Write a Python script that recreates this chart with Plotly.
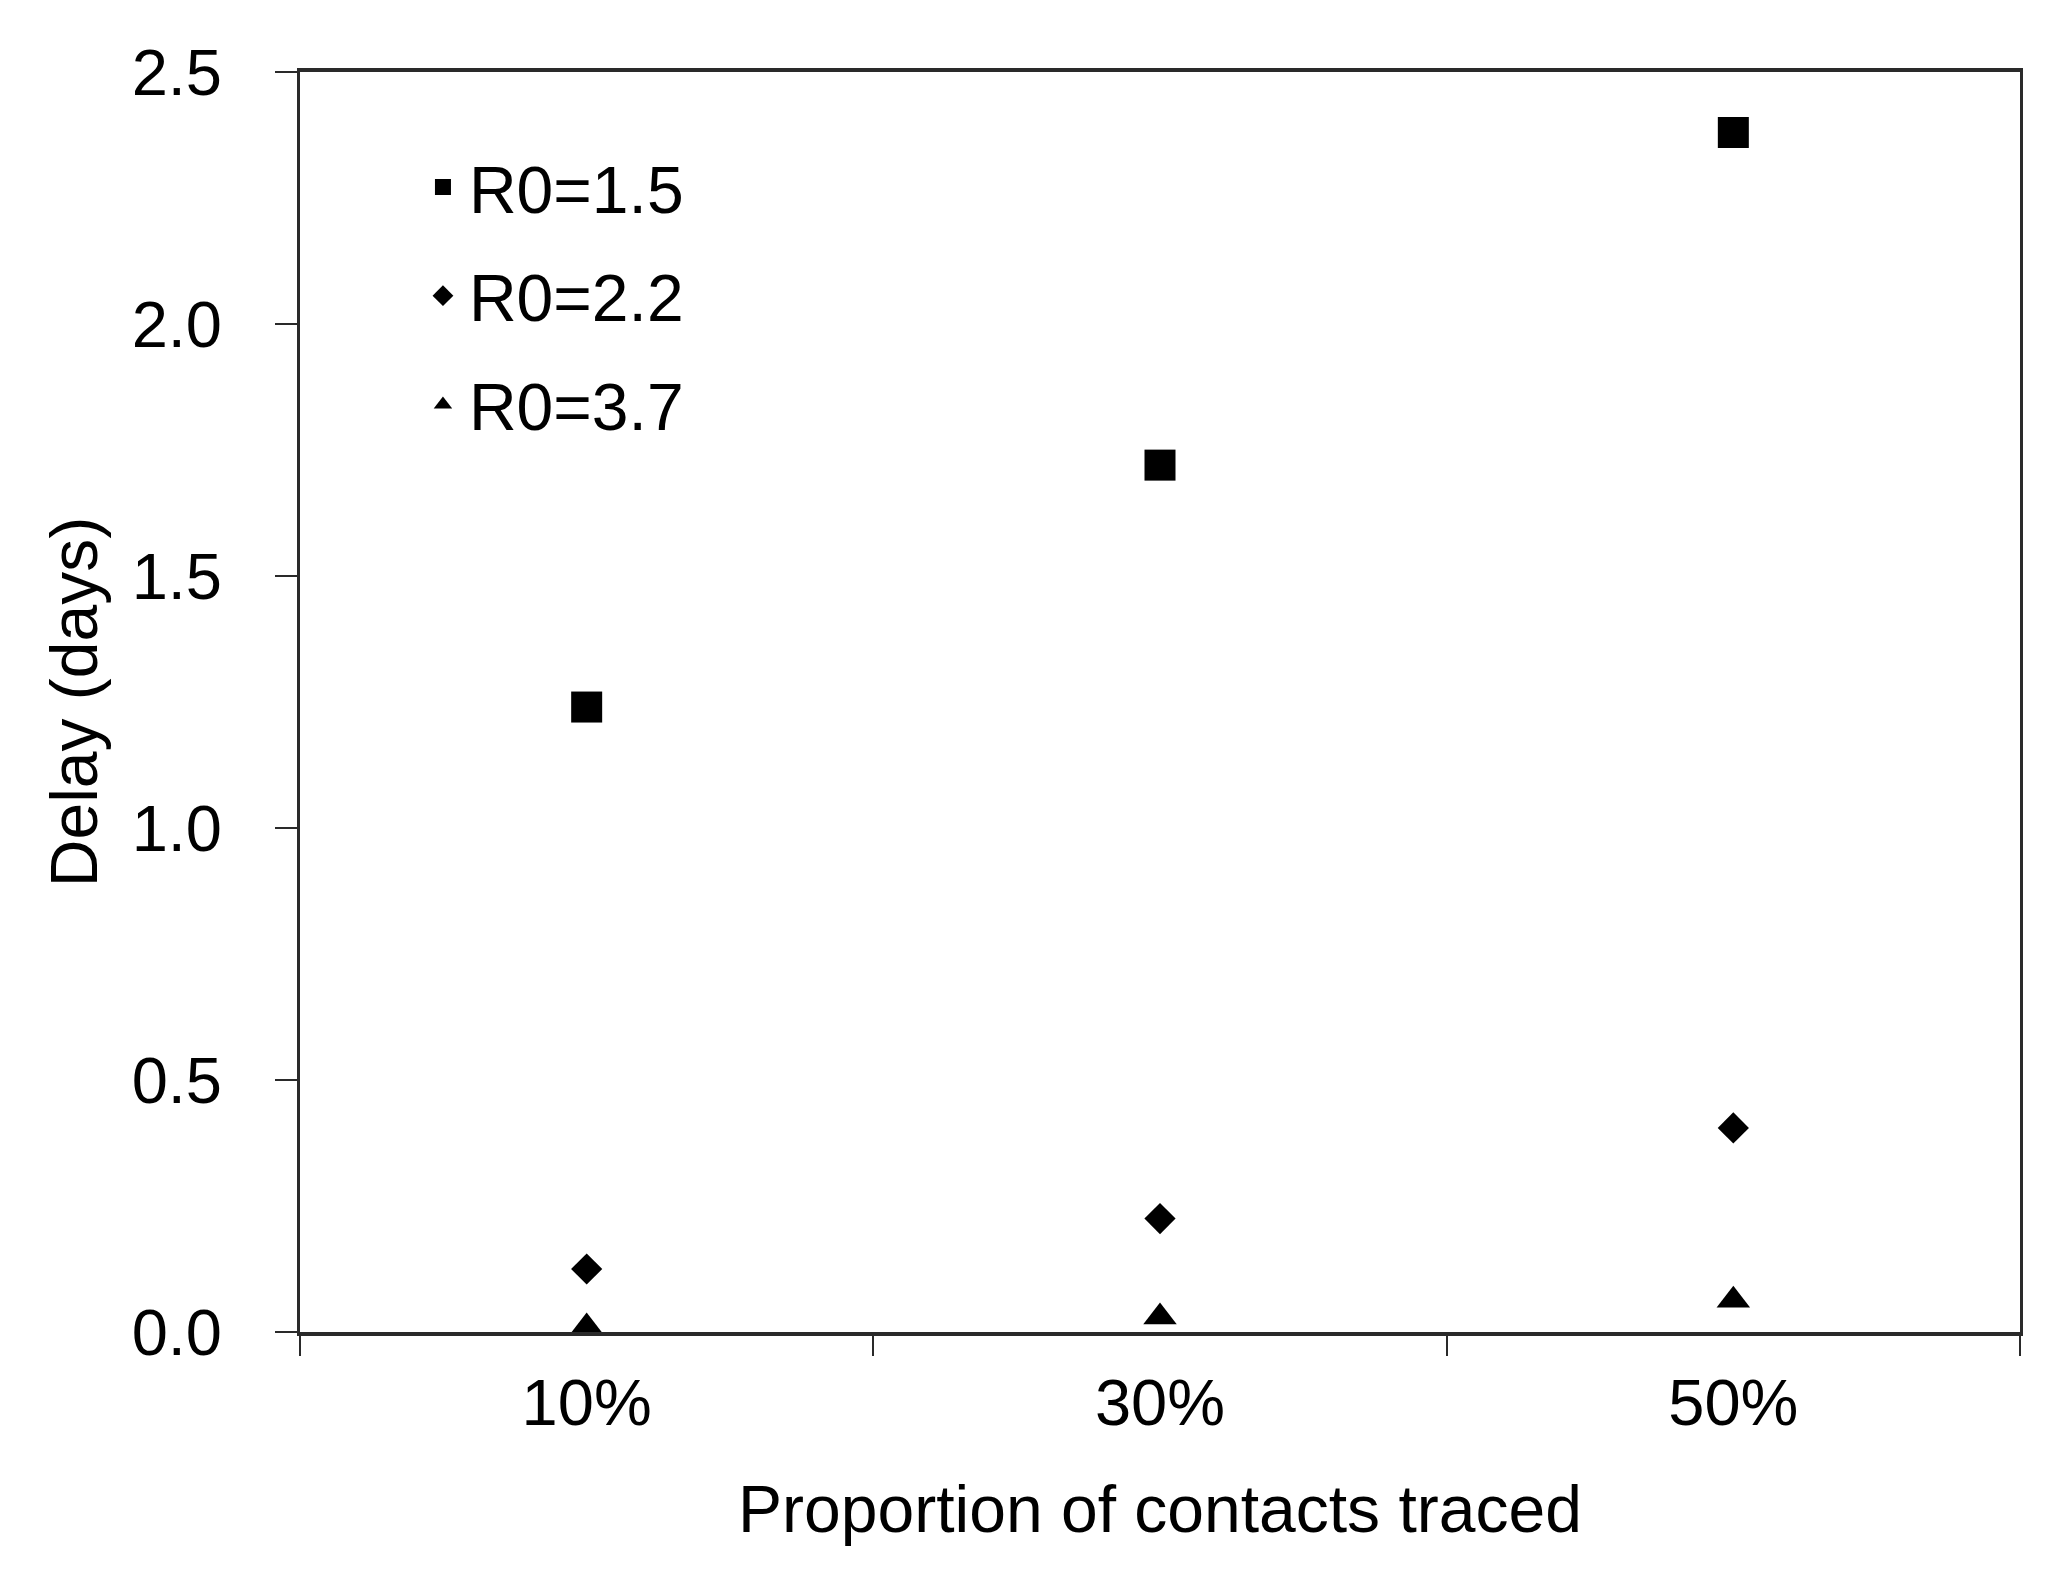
import plotly.graph_objects as go

categories = ["10%", "30%", "50%"]
r0_15 = [1.24, 1.72, 2.38]
r0_22 = [0.125, 0.225, 0.405]
r0_37 = [0.01, 0.03, 0.063]
series_names = ["R0=1.5", "R0=2.2", "R0=3.7"]
y_ticks = [0.0, 0.5, 1.0, 1.5, 2.0, 2.5]

FONT = "Liberation Sans, Arial, sans-serif"
AX = "#2a2a2a"

fig = go.Figure()
for name, vals, sym, size, grp in [
    (series_names[0], r0_15, "square", 31, "a"),
    (series_names[1], r0_22, "diamond", 24, "b"),
    (series_names[2], r0_37, "triangle-up", 29, "c"),
]:
    fig.add_trace(go.Scatter(
        x=categories, y=vals, mode="markers", name=name, legendgroup=grp,
        marker=dict(symbol=sym, size=size, color="black", line=dict(width=0)),
        cliponaxis=False,
    ))

fig.update_layout(
    width=2056, height=1581,
    paper_bgcolor="white", plot_bgcolor="white",
    margin=dict(l=292, r=44, t=64, b=257),
    font=dict(family=FONT, size=65, color="black"),
    showlegend=True,
    legend=dict(
        x=0.068, y=0.948, xanchor="left", yanchor="top",
        bgcolor="rgba(0,0,0,0)", font=dict(size=66, family=FONT),
        tracegroupgap=20, itemsizing="trace", itemwidth=42,
    ),
    xaxis=dict(
        type="category", categoryorder="array", categoryarray=categories,
        range=[-0.5, 2.5], tickson="boundaries",
        ticks="outside", ticklen=20, tickwidth=2, tickcolor=AX,
        showline=True, linewidth=4, linecolor=AX, mirror=True,
        showgrid=False, zeroline=False,
        tickfont=dict(size=65), ticklabelstandoff=11,
        title=dict(text="Proportion of contacts traced", font=dict(size=66), standoff=49),
    ),
    yaxis=dict(
        range=[0, 2.5], tickmode="array", tickvals=y_ticks,
        ticktext=[f"{v:.1f}" for v in y_ticks],
        ticks="outside", ticklen=22, tickwidth=2, tickcolor=AX,
        showline=True, linewidth=3, linecolor=AX, mirror=True,
        showgrid=False, zeroline=False,
        tickfont=dict(size=65), ticklabelstandoff=40,
        title=dict(text="Delay (days)", font=dict(size=66), standoff=13),
    ),
)

fig.write_html("out.html")
